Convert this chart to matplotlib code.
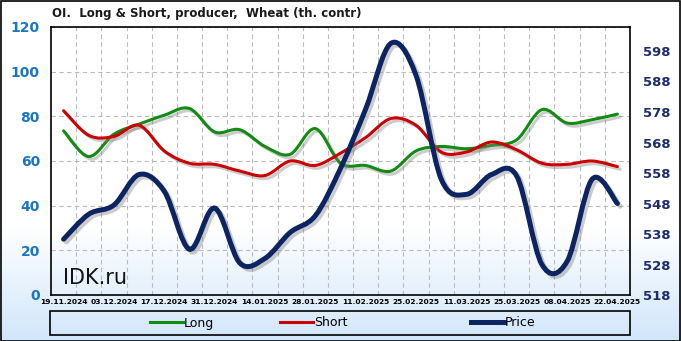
import numpy as np
import matplotlib.pyplot as plt
from matplotlib.path import Path
from matplotlib.patches import PathPatch, Rectangle
from matplotlib.lines import Line2D
import matplotlib.patheffects as pe

# weekly report dates
dates = ['19.11.2024', '26.11.2024', '03.12.2024', '10.12.2024', '17.12.2024', '24.12.2024',
         '31.12.2024', '07.01.2025', '14.01.2025', '21.01.2025', '28.01.2025', '04.02.2025',
         '11.02.2025', '18.02.2025', '25.02.2025', '04.03.2025', '11.03.2025', '18.03.2025',
         '25.03.2025', '01.04.2025', '08.04.2025', '15.04.2025', '22.04.2025']

long_oi = [73.5, 62, 72, 76.5, 80.5, 83.5, 73, 74, 66.5, 63, 74.5, 59, 58, 55.5,
           64.5, 66.5, 65.5, 67, 69.5, 83, 77, 78.5, 81]
short_oi = [82.5, 71.5, 71, 76, 64.5, 59, 58.5, 55.5, 53.5, 60, 58, 63.5, 70.5, 79,
            76, 64, 64, 68.5, 65, 59, 58.5, 60, 57.5]
price = [536.3, 544.5, 547.5, 557.5, 552, 533, 546.5, 528.5, 530, 538.5, 544, 559.5,
         579, 600.5, 590, 556, 551, 557.5, 557, 528, 529, 556, 548]

left_ticks = [0, 20, 40, 60, 80, 100, 120]
right_ticks = [518, 528, 538, 548, 558, 568, 578, 588, 598]


def smooth_path(xs, ys):
    # Catmull-Rom style bezier path through the points (like a "smoothed line")
    xs = np.asarray(xs, float)
    ys = np.asarray(ys, float)
    n = len(xs)
    verts = [(xs[0], ys[0])]
    codes = [Path.MOVETO]
    for i in range(n - 1):
        i0 = max(i - 1, 0)
        i3 = min(i + 2, n - 1)
        c1 = (xs[i] + (xs[i + 1] - xs[i0]) / 6, ys[i] + (ys[i + 1] - ys[i0]) / 6)
        c2 = (xs[i + 1] - (xs[i3] - xs[i]) / 6, ys[i + 1] - (ys[i3] - ys[i]) / 6)
        verts += [c1, c2, (xs[i + 1], ys[i + 1])]
        codes += [Path.CURVE4] * 3
    return Path(verts, codes)


W, H = 681, 341
fig = plt.figure(figsize=(W / 100, H / 100), dpi=100)

# background gradient white -> light blue
bg = fig.add_axes([0, 0, 1, 1], zorder=-10)
grad = np.ones((H, 1, 3))
top_c = np.array([1.0, 1.0, 1.0])
bot_c = np.array([0.82, 0.90, 0.98])
for r in range(H):
    t = 0 if r < 225 else (r - 225) / (H - 225)
    grad[r, 0] = top_c * (1 - t) + bot_c * t
bg.imshow(grad, aspect='auto', extent=[0, 1, 0, 1], origin='upper')
bg.set_xlim(0, 1)
bg.set_ylim(0, 1)
bg.axis('off')
fig.patches.append(Rectangle((0.5 / W, 0.5 / H), 1 - 1.5 / W, 1 - 1.5 / H, transform=fig.transFigure,
                             fill=False, edgecolor='black', linewidth=1.2))

ax = fig.add_axes([51 / W, 46 / H, 579 / W, 268 / H])
ax.set_facecolor('none')
ax2 = ax.twinx()

x = np.arange(len(dates))
shadow = [pe.SimpleLineShadow(offset=(2, -2), shadow_color='gray', alpha=0.4), pe.Normal()]

for vals, col, lw in [(long_oi, '#138a13', 2.2), (short_oi, '#cc0000', 2.2)]:
    ax.add_patch(PathPatch(smooth_path(x, vals), fill=False, edgecolor=col, linewidth=lw,
                           capstyle='round', path_effects=shadow, zorder=3))
ax2.add_patch(PathPatch(smooth_path(x, price), fill=False, edgecolor='#0c2461', linewidth=3.6,
                        capstyle='round', path_effects=shadow, zorder=3))

ax.set_xlim(-0.5, len(dates) - 0.5)
ax.set_ylim(0, 120)
ax2.set_ylim(518, 518 + 80 * 268 / 244)

ax.set_yticks(left_ticks)
ax.set_yticklabels([str(v) for v in left_ticks], color='#1a75c4', fontsize=10, fontweight='bold')
ax2.set_yticks(right_ticks)
ax2.set_yticklabels([str(v) for v in right_ticks], color='#1c2c6e', fontsize=9.5, fontweight='bold')

ax.set_xticks(x[::2])
ax.set_xticklabels(dates[::2], fontsize=5.4, fontweight='bold')
ax.set_xticks(x[:-1] + 0.5, minor=True)
ax.tick_params(axis='x', which='both', length=0, pad=3)
ax.tick_params(axis='y', length=0, pad=8)
ax2.tick_params(axis='y', length=0, pad=9)

ax.grid(True, which='minor', axis='x', color='#bbbbbb', linestyle=(0, (4, 3)), linewidth=0.8)
ax.grid(True, which='major', axis='y', color='#bbbbbb', linestyle=(0, (4, 3)), linewidth=0.8)
ax.set_axisbelow(True)
for s in ax.spines.values():
    s.set_linewidth(1.2)
for s in ax2.spines.values():
    s.set_visible(False)

ax.text(0.02, 0.04, 'IDK.ru', transform=ax.transAxes, fontsize=15, color='#111111', zorder=1)

fig.text(52 / W, 1 - 13 / H, 'OI.  Long & Short, producer,  Wheat (th. contr)', fontsize=8.5,
         fontweight='bold', color='#1a1a1a', va='center', ha='left')

# legend box
fig.patches.append(Rectangle((50 / W, 6 / H), 580 / W, 24 / H, transform=fig.transFigure,
                             fill=False, edgecolor='black', linewidth=1.2))
for name, col, lw, xpos in [('Long', '#138a13', 2.2, 150), ('Short', '#cc0000', 2.2, 280),
                            ('Price', '#0c2461', 3.6, 471)]:
    fig.legend(handles=[Line2D([], [], color=col, linewidth=lw)], labels=[name],
               loc='center left', bbox_to_anchor=(xpos / W, 18 / H), frameon=False,
               fontsize=9, handlelength=2.6, handletextpad=0.1, borderpad=0, borderaxespad=0)

fig.savefig('out.png', dpi=100)
